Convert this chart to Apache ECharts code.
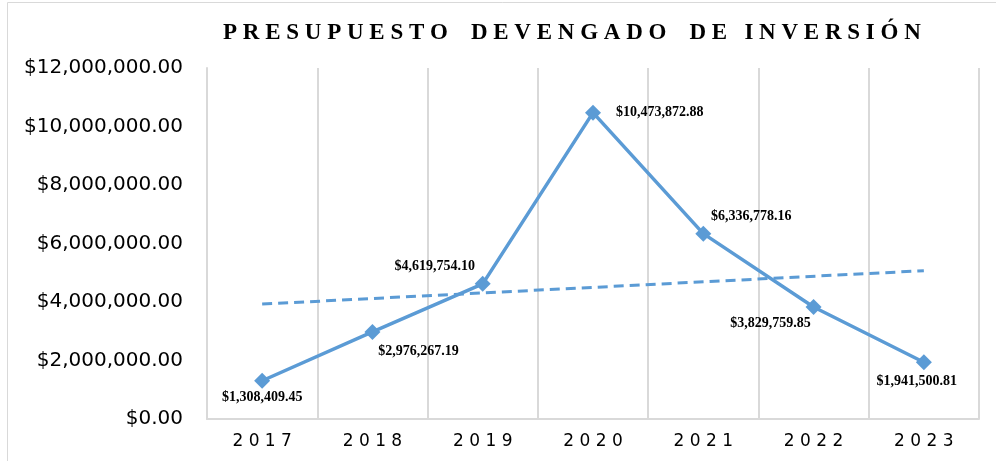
<!DOCTYPE html>
<html><head><meta charset="utf-8">
<script src="https://cdn.jsdelivr.net/npm/echarts@6/dist/echarts.min.js"></script>
<style>html,body{margin:0;padding:0;background:#fff}#c{width:996px;height:461px}</style>
</head><body><div id="c"></div>
<script>
const titleWords = ['PRESUPUESTO', 'DEVENGADO', 'DE', 'INVERSIÓN'];
const categories = ['2017','2018','2019','2020','2021','2022','2023'];
const values = [1308409.45, 2976267.19, 4619754.10, 10473872.88, 6336778.16, 3829759.85, 1941500.81];
const trendValues = [3930000, null, null, null, null, null, 5070000];
const yTicks = {min: 0, max: 12000000, interval: 2000000};

function money(v){
  const parts = v.toFixed(2).split('.');
  parts[0] = parts[0].replace(/\B(?=(\d{3})+(?!\d))/g, ',');
  return '$' + parts.join('.');
}
function spaced(s, sep){ return s.split('').join(sep); }
const wordGaps = ['    ', '    ', '   '];
const titleSpaced = titleWords.map((w, i) => spaced(w, ' ') + (wordGaps[i] || '')).join('');

const labelOffsets = [[0,17],[46,19],[-48,-17],[10,0],[48,-17],[-43,16],[-7,19]];
const color = '#5b9bd5';

const chart = echarts.init(document.getElementById('c'));
chart.setOption({
  animation: false,
  title: {
    text: titleSpaced, left: 218, top: 17,
    textStyle: {fontFamily: 'Liberation Serif', fontWeight: 'bold', fontSize: 23, color: '#000'}
  },
  graphic: [{type: 'rect', shape: {x: 7.5, y: 2.5, width: 1000, height: 470}, style: {fill: 'none', stroke: '#d9d9d9', lineWidth: 1}, silent: true}],
  grid: {left: 207, right: 17, top: 68, bottom: 42, show: false},
  xAxis: {
    type: 'category', data: categories, boundaryGap: true,
    axisLine: {lineStyle: {color: '#d9d9d9', width: 2}},
    axisTick: {show: false},
    splitLine: {show: true, lineStyle: {color: '#d9d9d9', width: 2}},
    axisLabel: {formatter: v => spaced(v, ' '), fontFamily: 'DejaVu Sans', fontSize: 17, color: '#000', margin: 14}
  },
  yAxis: {
    type: 'value', min: yTicks.min, max: yTicks.max, interval: yTicks.interval,
    axisLine: {show: true, lineStyle: {color: '#d9d9d9', width: 2}},
    axisTick: {show: false},
    splitLine: {show: false},
    axisLabel: {formatter: v => money(v), fontFamily: 'DejaVu Sans', fontSize: 20, color: '#000', margin: 24}
  },
  series: [
    {
      type: 'line', data: values.map((v, i) => ({
        value: v,
        label: {position: i === 3 ? 'right' : 'inside', offset: labelOffsets[i]}
      })),
      lineStyle: {color: color, width: 3.5},
      itemStyle: {color: color},
      symbol: 'diamond', symbolSize: 16,
      label: {show: true, formatter: p => money(p.value), fontFamily: 'Liberation Serif', fontWeight: 'bold', fontSize: 14, color: '#000'},
      z: 3
    },
    {
      type: 'line', data: trendValues, connectNulls: true, symbol: 'none',
      lineStyle: {color: color, width: 3, type: [10, 6]},
      z: 2
    }
  ]
});
</script></body></html>
